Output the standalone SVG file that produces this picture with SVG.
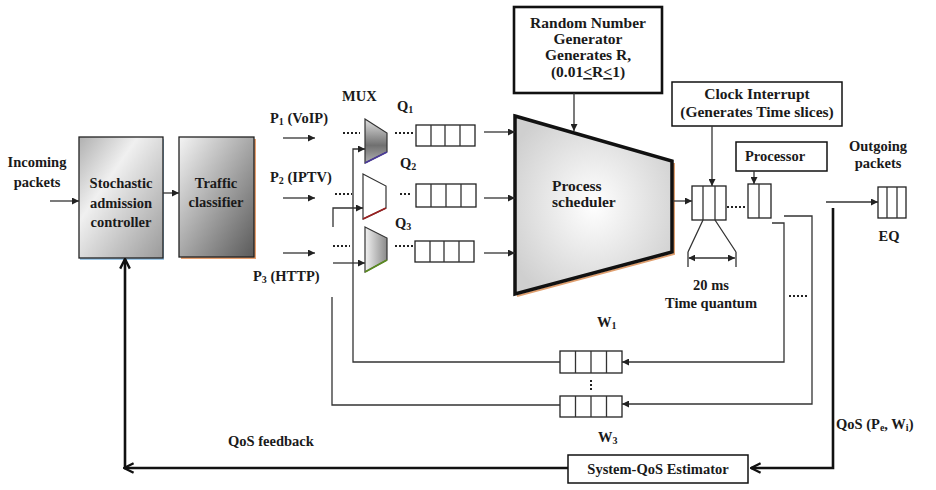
<svg xmlns="http://www.w3.org/2000/svg" width="936" height="490" viewBox="0 0 936 490">
<style>
text{font-family:"Liberation Serif","Times New Roman",serif;font-weight:bold;font-size:14.5px;fill:#1a1a1a}
.c{text-anchor:middle}
.big{font-size:15.5px}
.ln{fill:none;stroke:#333;stroke-width:1.3}
.thk{fill:none;stroke:#111;stroke-width:2.6}
.box{fill:#fff;stroke:#111;stroke-width:1.5}
.q{fill:#fff;stroke:#222;stroke-width:1.3}
.dot{fill:none;stroke:#222;stroke-width:2;stroke-dasharray:2,2}
.sub{font-size:10px}
</style>
<defs>
<marker id="a" viewBox="0 0 10 10" refX="10" refY="5" markerWidth="7" markerHeight="7" markerUnits="userSpaceOnUse" orient="auto"><path d="M0,0 L10,5 L0,10 z" fill="#222"/></marker>
<marker id="ao" viewBox="0 0 10 10" refX="9" refY="5" markerWidth="12" markerHeight="12" markerUnits="userSpaceOnUse" orient="auto"><path d="M1,1 L9,5 L1,9" fill="none" stroke="#111" stroke-width="2"/></marker>
<marker id="as" viewBox="0 0 10 10" refX="1" refY="5" markerWidth="7" markerHeight="7" markerUnits="userSpaceOnUse" orient="auto"><path d="M10,0 L0,5 L10,10 z" fill="#222"/></marker>
<linearGradient id="gS" x1="0" y1="0" x2="1" y2="1"><stop offset="0" stop-color="#b0b0b0"/><stop offset="0.35" stop-color="#f0f0f0"/><stop offset="1" stop-color="#9a9a9a"/></linearGradient>
<linearGradient id="gT" x1="0" y1="0" x2="1" y2="1"><stop offset="0" stop-color="#f4f4f4"/><stop offset="1" stop-color="#5a5a5a"/></linearGradient>
<linearGradient id="gM1" x1="0" y1="0" x2="0" y2="1"><stop offset="0" stop-color="#e0e0e0"/><stop offset="0.6" stop-color="#707070"/><stop offset="1" stop-color="#b0b0b0"/></linearGradient>
<linearGradient id="gM3" x1="0" y1="0" x2="1" y2="0"><stop offset="0" stop-color="#f2f2f2"/><stop offset="1" stop-color="#8a8a8a"/></linearGradient>
<radialGradient id="gP" cx="0.5" cy="0.5" r="0.6"><stop offset="0" stop-color="#ffffff"/><stop offset="1" stop-color="#cfcfcf"/></radialGradient>
</defs>

<g id="incoming">
<text class="c" x="37" y="167">Incoming</text>
<text class="c" x="37" y="187">packets</text>
</g>

<g id="stochastic">
<rect x="80" y="139" width="84" height="121" fill="#9ec8e8"/>
<rect x="79" y="137" width="84" height="121" fill="url(#gS)" stroke="#222" stroke-width="1.3"/>
<text class="c" x="121" y="188">Stochastic</text>
<text class="c" x="121" y="208">admission</text>
<text class="c" x="121" y="227">controller</text>
</g>

<g id="classifier">
<rect x="181" y="139" width="75" height="120" fill="#e8a070"/>
<rect x="179" y="137" width="75" height="120" fill="url(#gT)" stroke="#222" stroke-width="1.3"/>
<text class="c" x="216" y="188">Traffic</text>
<text class="c" x="216" y="207">classifier</text>
</g>

<g id="labels-p">
<text x="270" y="123">P<tspan class="sub" dy="2">1</tspan><tspan dy="-2"> (VoIP)</tspan></text>
<text x="270" y="182">P<tspan class="sub" dy="2">2</tspan><tspan dy="-2"> (IPTV)</tspan></text>
<text x="253" y="281">P<tspan class="sub" dy="2">3</tspan><tspan dy="-2"> (HTTP)</tspan></text>
<text x="342" y="101">MUX</text>
<text x="397" y="111">Q<tspan class="sub" dy="2">1</tspan></text>
<text x="400" y="168">Q<tspan class="sub" dy="2">2</tspan></text>
<text x="395" y="228">Q<tspan class="sub" dy="2">3</tspan></text>
</g>

<g id="mux1">
<polygon points="365,119 387,133 387,152 365,163" fill="url(#gM1)" stroke="#333" stroke-width="1.2"/>
<line x1="365" y1="163" x2="387" y2="152" stroke="#4a3a9a" stroke-width="1.8"/>
</g>
<g id="mux2">
<polygon points="363,174 386,186 386,208 363,219" fill="#fff" stroke="#333" stroke-width="1.2"/>
<line x1="363" y1="219" x2="386" y2="208" stroke="#9a2020" stroke-width="1.8"/>
</g>
<g id="mux3">
<polygon points="365,227 387,238 387,260 365,272" fill="url(#gM3)" stroke="#333" stroke-width="1.2"/>
<line x1="365" y1="272" x2="387" y2="260" stroke="#5a8a20" stroke-width="1.8"/>
</g>

<g id="queue1">
<rect class="q" x="416" y="125" width="59" height="21"/>
<path class="ln" d="M431,125V146M445,125V146M460,125V146"/>
</g>
<g id="queue2">
<rect class="q" x="416" y="184" width="60" height="23"/>
<path class="ln" d="M431,184V207M446,184V207M461,184V207"/>
</g>
<g id="queue3">
<rect class="q" x="415" y="241" width="59" height="21"/>
<path class="ln" d="M430,241V262M444,241V262M459,241V262"/>
</g>

<g id="rng">
<rect x="514" y="7" width="148" height="86" fill="#fff" stroke="#111" stroke-width="2.6"/>
<text class="c big" x="588" y="28">Random Number</text>
<text class="c big" x="588" y="44">Generator</text>
<text class="c big" x="588" y="60">Generates R,</text>
<text class="c big" x="588" y="77">(0.01<tspan text-decoration="underline">&lt;</tspan>R<tspan text-decoration="underline">&lt;</tspan>1)</text>
</g>

<g id="scheduler">
<polyline points="674,163 674,254 517,296" fill="none" stroke="#e0a070" stroke-width="2"/>
<polygon points="515,116 672,161 672,252 515,294" fill="url(#gP)" stroke="#111" stroke-width="3.5" stroke-linejoin="miter"/>
<text class="big" x="552" y="191">Process</text>
<text class="big" x="552" y="207">scheduler</text>
</g>

<g id="clock">
<rect class="box" x="672" y="82" width="170" height="44"/>
<text class="c big" x="757" y="99">Clock Interrupt</text>
<text class="c big" x="757" y="117">(Generates Time slices)</text>
</g>

<g id="clockqueue">
<rect class="q" x="692" y="186" width="34" height="34"/>
<path class="ln" d="M703,186V220M715,186V220"/>
</g>

<g id="processor">
<rect class="box" x="736" y="142" width="91" height="29"/>
<text class="c" x="775" y="161">Processor</text>
</g>
<g id="procqueue">
<rect class="q" x="748" y="184" width="23" height="34"/>
<path class="ln" d="M759,184V218"/>
</g>

<g id="quantum">
<text class="c" x="711" y="290">20 ms</text>
<text class="c" x="711" y="308">Time quantum</text>
</g>

<g id="outgoing">
<text class="c" x="878" y="151">Outgoing</text>
<text class="c" x="878" y="168">packets</text>
</g>
<g id="eq">
<rect class="q" x="878" y="187" width="28" height="31"/>
<path class="ln" d="M887,187V218M897,187V218"/>
<text class="c" x="889" y="241">EQ</text>
</g>

<g id="w1">
<rect class="q" x="560" y="351" width="62" height="22"/>
<path class="ln" d="M575.5,351V373M591,351V373M606.5,351V373"/>
<text x="597" y="327">W<tspan class="sub" dy="2">1</tspan></text>
</g>
<g id="w3">
<rect class="q" x="560" y="396" width="62" height="21"/>
<path class="ln" d="M575.5,396V417M591,396V417M606.5,396V417"/>
<text x="598" y="442">W<tspan class="sub" dy="2">3</tspan></text>
</g>

<g id="estimator">
<rect class="box" x="568" y="455" width="180" height="28"/>
<text class="c" x="658" y="474">System-QoS Estimator</text>
</g>

<g id="feedback-labels">
<text x="228" y="446">QoS feedback</text>
<text x="836" y="429">QoS (P<tspan class="sub" dy="2">e</tspan><tspan dy="-2">, W</tspan><tspan class="sub" dy="2">i</tspan><tspan dy="-2">)</tspan></text>
</g>

<g id="connectors">
<path class="ln" d="M50,201H79" marker-end="url(#a)"/>
<path class="ln" d="M163,193H179" marker-end="url(#a)"/>
<path class="ln" d="M283,138H315" marker-end="url(#a)"/>
<path class="ln" d="M283,198H315" marker-end="url(#a)"/>
<path class="ln" d="M283,253H315" marker-end="url(#a)"/>
<path class="ln" d="M484,132H515" marker-end="url(#a)"/>
<path class="ln" d="M484,198H515" marker-end="url(#a)"/>
<path class="ln" d="M484,253H515" marker-end="url(#a)"/>
<path class="ln" d="M574,93V131" marker-end="url(#a)"/>
<path class="ln" d="M673,201H692" marker-end="url(#a)"/>
<path class="ln" d="M712,126V186" marker-end="url(#a)"/>
<path class="ln" d="M754,171V184" marker-end="url(#a)"/>
<path class="ln" d="M703,220L688,252M715,220L736,252M688,252V267M736,252V267"/>
<path class="ln" d="M689,258H735" marker-start="url(#as)" marker-end="url(#a)"/>
<path class="ln" d="M772,223H784V362H622" marker-end="url(#a)"/>
<path class="ln" d="M784,216H812V404H622" marker-end="url(#a)"/>
<path class="ln" d="M560,362H353V149H365" marker-end="url(#a)"/>
<path class="ln" d="M560,405H332V297"/>
<path class="ln" d="M333,227V208H363" marker-end="url(#a)"/>
<path class="ln" d="M333,263H365" marker-end="url(#a)"/>
<path class="ln" d="M826,202H878" marker-end="url(#a)"/>
<path class="thk" d="M833,208V468H751" marker-end="url(#ao)"/>
<path class="thk" d="M568,468H124" marker-end="url(#ao)"/>
<path class="thk" d="M125,468V259" marker-end="url(#ao)"/>
<path class="dot" d="M343,133H360M395,133H415M335,194H352M400,194H410M333,246H350M395,246H414M727,207H747M789,296H807"/>
<path class="dot" d="M591,380V390"/>
</g>
</svg>
